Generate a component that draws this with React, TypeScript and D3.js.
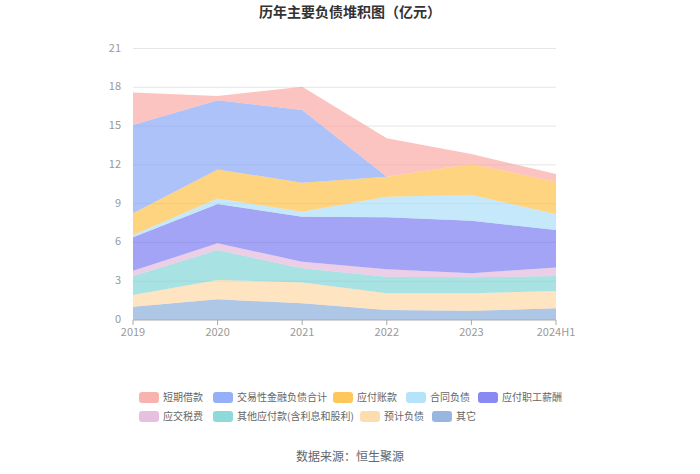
import React from "react";
import * as d3 from "d3";

const categories = ["2019", "2020", "2021", "2022", "2023", "2024H1"];
const seriesNames = ["其它", "预计负债", "其他应付款(含利息和股利)", "应交税费", "应付职工薪酬", "合同负债", "应付账款", "交易性金融负债合计", "短期借款"];
const otherVals = [1.03, 1.6, 1.29, 0.77, 0.72, 0.9];
const provisionVals = [0.9, 1.49, 1.62, 1.29, 1.34, 1.34];
const otherPayVals = [1.47, 2.32, 1.09, 1.29, 1.24, 1.16];
const taxVals = [0.4, 0.52, 0.51, 0.57, 0.31, 0.67];
const salaryVals = [2.6, 3.04, 3.48, 4.02, 4.07, 2.89];
const contractVals = [0.17, 0.43, 0.39, 1.6, 1.99, 1.21];
const payableVals = [1.68, 2.25, 2.24, 1.54, 2.39, 2.53];
const tradingVals = [6.83, 5.35, 5.62, 0, 0, 0];
const shortLoanVals = [2.52, 0.32, 1.81, 2.97, 0.78, 0.59];
const yTicks = [0, 3, 6, 9, 12, 15, 18, 21];

const seriesValues = [otherVals, provisionVals, otherPayVals, taxVals, salaryVals, contractVals, payableVals, tradingVals, shortLoanVals];
const legendColors = ["#7ea4d8", "#fdd49a", "#72d0d0", "#e0b0d8", "#6c6cf0", "#a2dcf7", "#fdb933", "#7b9cf5", "#f8a09a"];

const legendRow1 = [
  { name: "短期借款", idx: 8, x: 139 },
  { name: "交易性金融负债合计", idx: 7, x: 213 },
  { name: "应付账款", idx: 6, x: 333 },
  { name: "合同负债", idx: 5, x: 406 },
  { name: "应付职工薪酬", idx: 4, x: 478 },
];
const legendRow2 = [
  { name: "应交税费", idx: 3, x: 139 },
  { name: "其他应付款(含利息和股利)", idx: 2, x: 213 },
  { name: "预计负债", idx: 1, x: 360 },
  { name: "其它", idx: 0, x: 432 },
];

export default function App() {
  const left = 133, right = 556, top = 48.5, bottom = 320;
  const x = d3.scalePoint<string>().domain(categories).range([left, right]);
  const y = d3.scaleLinear().domain([0, 21]).range([bottom, top]);

  const table = categories.map((c, i) => {
    const row: any = { cat: c };
    seriesNames.forEach((n, k) => (row[n] = seriesValues[k][i]));
    return row;
  });
  const stacked = d3.stack<any>().keys(seriesNames)(table);
  const area = d3
    .area<any>()
    .x((d) => x(d.data.cat) as number)
    .y0((d) => y(d[0]))
    .y1((d) => y(d[1]));

  const font = "'Microsoft YaHei', 'Noto Sans CJK SC', sans-serif";
  const legendItems = [
    ...legendRow1.map((l) => ({ ...l, y: 397 })),
    ...legendRow2.map((l) => ({ ...l, y: 416 })),
  ];

  return (
    <svg width={700} height={474} style={{ position: "absolute", left: 0, top: 0 }} fontFamily={font}>
      <rect width={700} height={474} fill="#fff" />
      <text x={350} y={17} textAnchor="middle" fontSize={14} fontWeight="bold" fill="#333">
        历年主要负债堆积图（亿元）
      </text>
      {yTicks.map((t) => (
        <g key={t}>
          {t > 0 && <line x1={left} x2={right} y1={y(t)} y2={y(t)} stroke="#e6e6e6" strokeWidth={1} />}
          <text x={121} y={y(t) + 3} textAnchor="end" fontSize={11} fill="#999">
            {t}
          </text>
        </g>
      ))}
      {stacked.map((s, k) => (
        <path key={s.key} d={area(s) || ""} fill={legendColors[k]} fillOpacity={0.62} stroke="none" />
      ))}
      <line x1={left} x2={right} y1={bottom} y2={bottom} stroke="#aaa" strokeWidth={1} />
      {categories.map((c) => (
        <g key={c}>
          <line x1={x(c)} x2={x(c)} y1={bottom} y2={bottom + 5} stroke="#aaa" />
          <text x={x(c)} y={bottom + 16} textAnchor="middle" fontSize={11} fill="#999">
            {c}
          </text>
        </g>
      ))}
      {legendItems.map((l) => (
        <g key={l.name}>
          <rect x={l.x} y={l.y - 5} width={20} height={11} rx={3} fill={legendColors[l.idx]} fillOpacity={0.8} />
          <text x={l.x + 24} y={l.y + 4} fontSize={10} fill="#666">
            {l.name}
          </text>
        </g>
      ))}
      <text x={350} y={461} textAnchor="middle" fontSize={12} fill="#666">
        数据来源：恒生聚源
      </text>
    </svg>
  );
}
